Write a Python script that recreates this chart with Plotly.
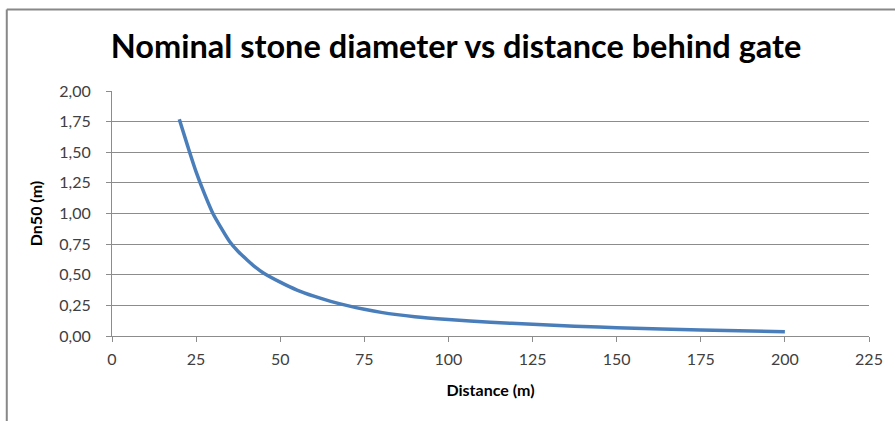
import plotly.graph_objects as go

distance = [20, 22.5, 25, 27.5, 30, 32.5, 35, 37.5, 40, 42.5, 45, 50, 55, 60, 65, 70, 75, 80, 90, 100, 112.5, 125, 137.5, 150, 175, 200]
dn50 = [1.77, 1.55, 1.34, 1.16, 1.00, 0.88, 0.77, 0.69, 0.625, 0.565, 0.515, 0.44, 0.375, 0.325, 0.283, 0.248, 0.218, 0.193, 0.158, 0.135, 0.112, 0.095, 0.08, 0.068, 0.049, 0.035]

title_text = "Nominal stone diameter vs distance behind gate"
x_title = "Distance (m)"
y_title = "Dn50 (m)"

W, H = 895, 421
L, R, T, B = 112, 24, 91, 85
pw, ph = W - L - R, H - T - B

fig = go.Figure()
fig.add_trace(go.Scatter(x=distance, y=dn50, mode="lines",
                         line=dict(color="#4a7ebb", width=3.5, shape="spline", smoothing=0.8),
                         showlegend=False, hoverinfo="x+y"))

grid = "#8c8c8c"
font_fam = "Lato, Open Sans, sans-serif"

# outer border (extends beyond right/bottom)
bx0 = (6.5 - L) / pw
by1 = 1 + (T - 9.5) / ph
fig.add_shape(type="line", xref="paper", yref="paper", x0=bx0, x1=(W + 5 - L) / pw, y0=by1, y1=by1,
              line=dict(color="#888888", width=2))
fig.add_shape(type="line", xref="paper", yref="paper", x0=bx0, x1=bx0, y0=by1, y1=-(B + 5) / ph,
              line=dict(color="#888888", width=2))

fig.update_layout(
    width=W, height=H,
    margin=dict(l=L, r=R, t=T, b=B),
    paper_bgcolor="white", plot_bgcolor="white",
    separators=",.",
    title=dict(text="<b>" + title_text + "</b>", x=(457 - L) / pw, xref="paper", xanchor="center",
               y=1 - 47 / H, yanchor="middle",
               font=dict(family=font_fam, size=32.5, color="black")),
    font=dict(family=font_fam, color="#404040"),
    xaxis=dict(range=[0, 225], tick0=0, dtick=25, showgrid=False, zeroline=False,
               showline=True, linecolor=grid, linewidth=1,
               ticks="outside", ticklen=5, tickcolor=grid, ticklabelstandoff=4,
               tickfont=dict(size=16, color="#404040"),
               title=dict(text="<b>" + x_title + "</b>", font=dict(size=16, color="black"), standoff=17)),
    yaxis=dict(range=[0, 2], tick0=0, dtick=0.25, tickformat=".2f",
               showgrid=True, gridcolor=grid, gridwidth=1, zeroline=False,
               showline=True, linecolor=grid, linewidth=1,
               ticks="outside", ticklen=5, tickcolor=grid, ticklabelstandoff=12,
               tickfont=dict(size=16, color="#404040"),
               title=dict(text="<b>" + y_title + "</b>", font=dict(size=16, color="black"), standoff=12)),
)

fig.write_html("out.html", config={"displayModeBar": False},
               post_script="document.body.style.margin='0';document.body.style.overflow='hidden';")
